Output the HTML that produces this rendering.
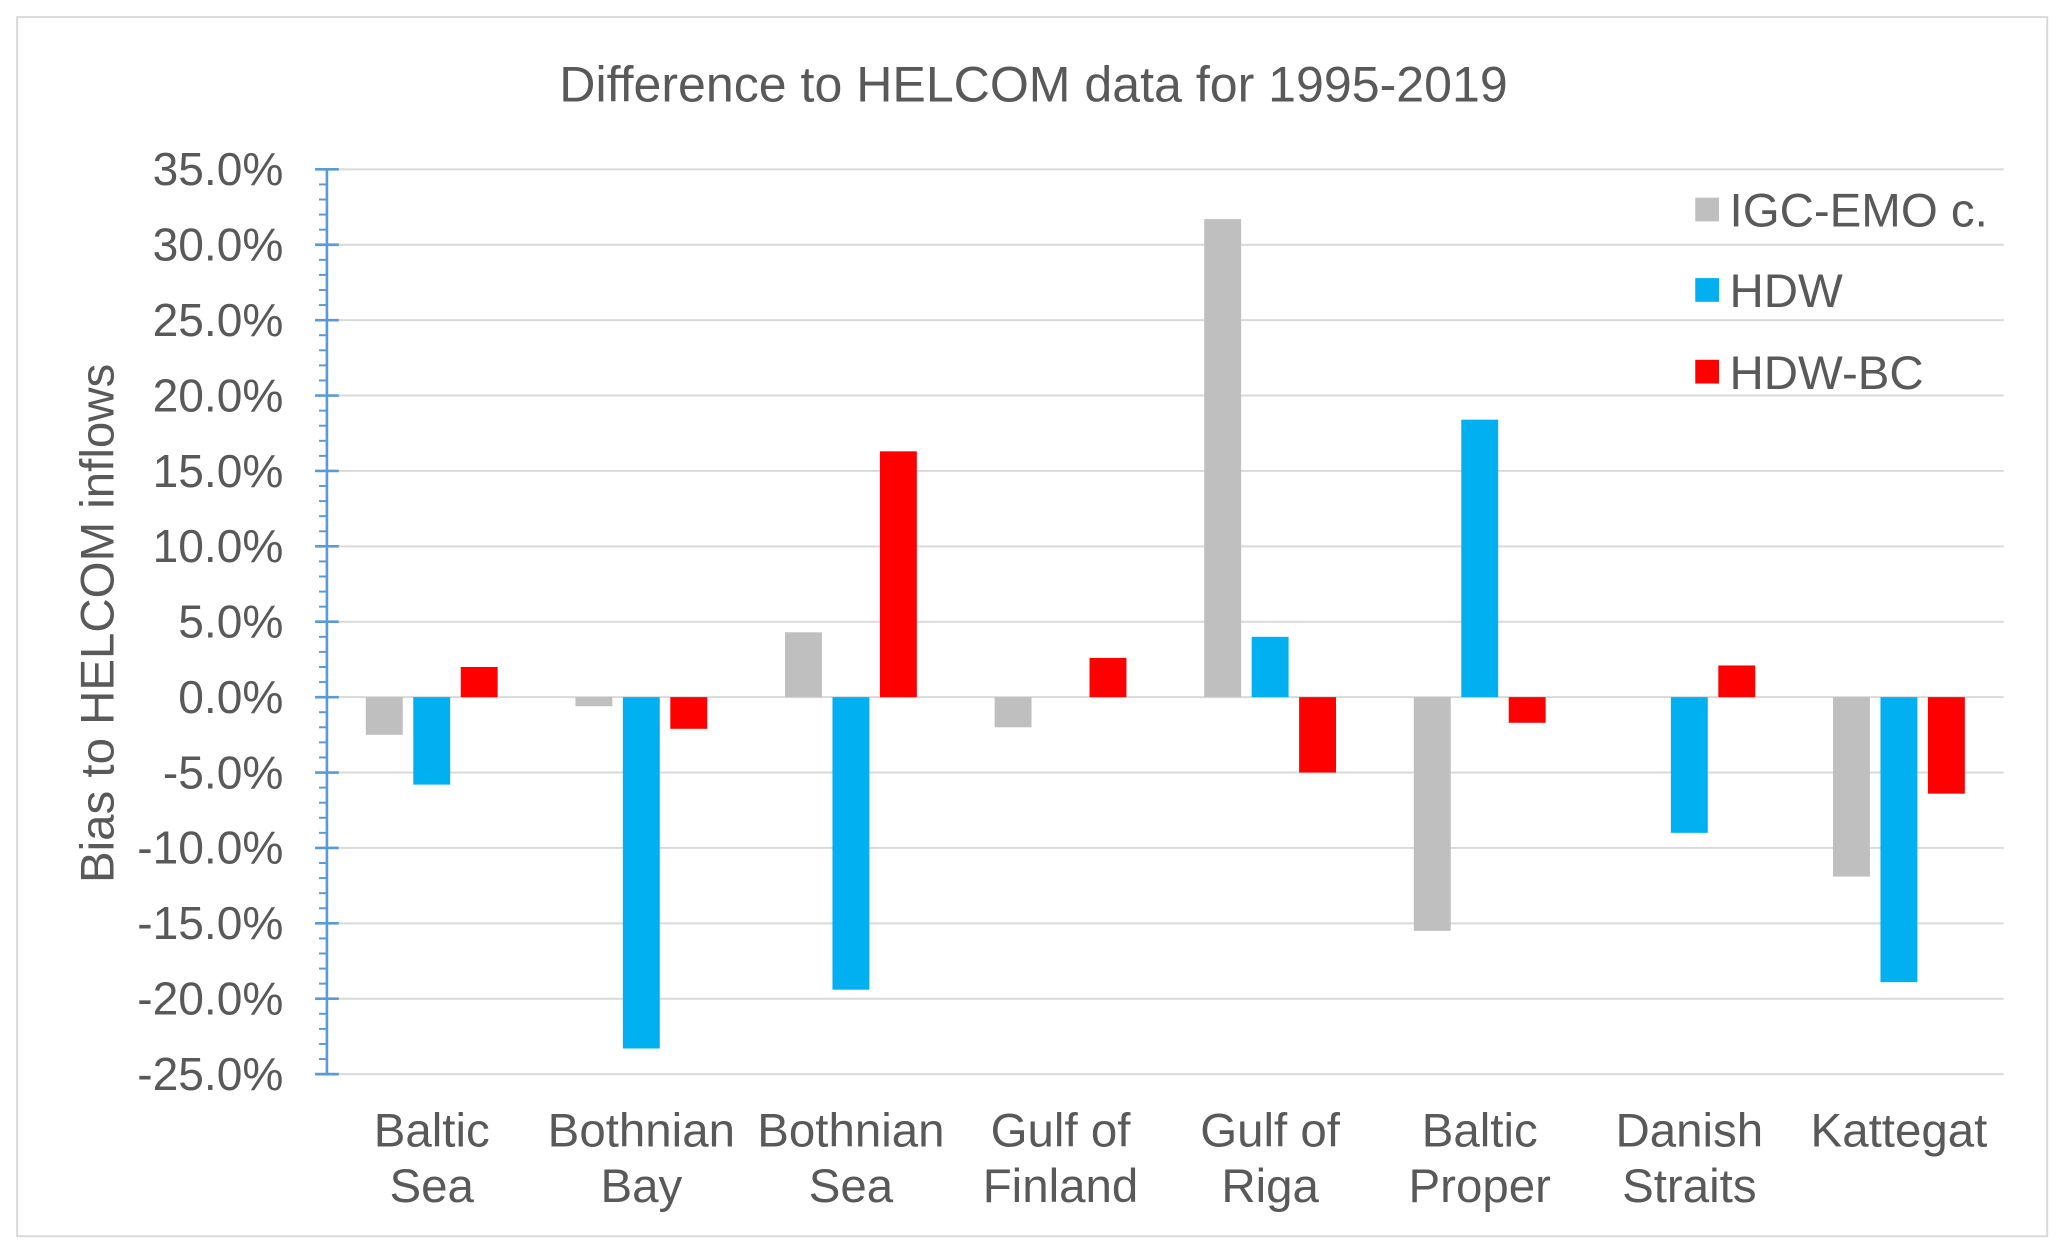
<!DOCTYPE html>
<html><head><meta charset="utf-8"><style>
html,body{margin:0;padding:0;background:#fff;}
svg{display:block;}
text{font-family:"Liberation Sans",sans-serif;fill:#595959;}
</style></head><body>
<svg id="chart" width="2067" height="1256" viewBox="0 0 1568 953" preserveAspectRatio="none" xmlns="http://www.w3.org/2000/svg">
<rect x="13" y="13" width="1540" height="925" fill="#fff" stroke="#d9d9d9" stroke-width="1.5"/>
<text x="784" y="77" font-size="38" text-anchor="middle">Difference to HELCOM data for 1995-2019</text>
<text transform="translate(86,473) rotate(-90)" font-size="36" text-anchor="middle">Bias to HELCOM inflows</text>
<g id="grid"></g><g id="bars"></g><g id="axis"></g><g id="labels"></g>
<g>
<rect x="1286" y="150" width="18" height="18" fill="#bfbfbf"/>
<text x="1312" y="172" font-size="36">IGC-EMO c.</text>
<rect x="1286" y="211" width="18" height="18" fill="#00b0f0"/>
<text x="1312" y="233" font-size="36">HDW</text>
<rect x="1286" y="273" width="18" height="18" fill="#ff0000"/>
<text x="1312" y="295" font-size="36">HDW-BC</text>
</g>
</svg>
<script>
const categories=[["Baltic","Sea"],["Bothnian","Bay"],["Bothnian","Sea"],["Gulf of","Finland"],["Gulf of","Riga"],["Baltic","Proper"],["Danish","Straits"],["Kattegat",""]];
const igc=[-2.5,-0.6,4.3,-2.0,31.7,-15.5,0,-11.9];
const hdw=[-5.8,-23.3,-19.4,0,4.0,18.4,-9.0,-18.9];
const hdwbc=[2.0,-2.1,16.3,2.6,-5.0,-1.7,2.1,-6.4];
const ticks=[35,30,25,20,15,10,5,0,-5,-10,-15,-20,-25];
const NS="http://www.w3.org/2000/svg";
const x0=248,x1=1520,yTop=128.5,yBot=815;
function y(v){return yTop+(35-v)*(yBot-yTop)/60;}
const gw=(x1-x0)/categories.length;
function mk(tag,attrs,parent){const e=document.createElementNS(NS,tag);for(const k in attrs)e.setAttribute(k,attrs[k]);document.getElementById(parent).appendChild(e);return e;}
ticks.forEach(t=>{
 const g=mk('line',{x1:x0,x2:x1,y1:y(t),y2:y(t),stroke:'#d9d9d9','stroke-width':1.5},'grid');
 
 
 const tl=mk('text',{x:215,y:y(t)+12,'font-size':35,'text-anchor':'end'},'labels');
 tl.textContent=t.toFixed(1)+'%';
 
 
 const tk=mk('line',{x1:x0-9,x2:x0+9,y1:y(t),y2:y(t),stroke:'#5b9bd5','stroke-width':2},'axis');
 
 
});
for(let v=-25;v<35;v++){if(v%5===0)continue;
 const m=mk('line',{x1:x0-6,x2:x0,y1:y(v),y2:y(v),stroke:'#5b9bd5','stroke-width':1.5},'axis');
 
 }
const ax=mk('line',{x1:x0,x2:x0,y1:yTop,y2:yBot,stroke:'#5b9bd5','stroke-width':2},'axis');


const series=[[igc,'#bfbfbf','igc'],[hdw,'#00b0f0','hdw'],[hdwbc,'#ff0000','hdwbc']];
categories.forEach((c,i)=>{
 const cx=x0+gw*(i+0.5);
 series.forEach((s,j)=>{
  const v=s[0][i];const bx=cx+(j-1)*36-14;
  const r=mk('rect',{x:bx,y:Math.min(y(v),y(0)),width:28,height:Math.abs(y(v)-y(0)),fill:s[1]},'bars');
  
  
 });
 c.forEach((ln,k)=>{if(!ln)return;
  const t=mk('text',{x:cx,y:870+k*42,'font-size':36,'text-anchor':'middle'},'labels');
  t.textContent=ln;
  
  });
});
</script>
</body></html>
